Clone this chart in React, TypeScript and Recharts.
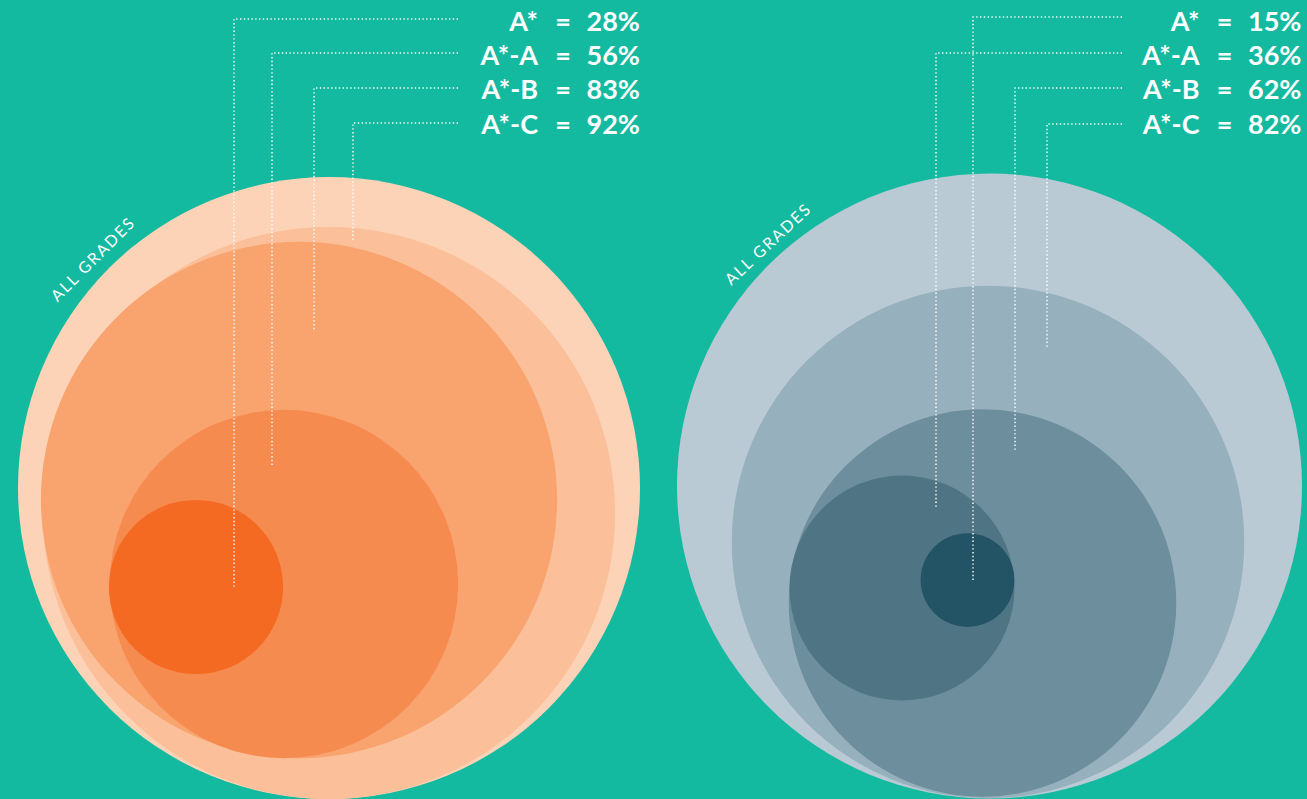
import { ScatterChart, Scatter, XAxis, YAxis, ZAxis, Cell } from "recharts";

const W = 1307;
const H = 799;

// grade bands, smallest first
const gradeBands = ["A*", "A*-A", "A*-B", "A*-C"];
const schoolA = [28, 56, 83, 92];
const schoolB = [15, 36, 62, 82];

const orangeColors = ["#F46A22", "#F68B50", "#F9A36F", "#FBBF99"];
const orangeAll = "#FDD3B8";
const blueColors = ["#225465", "#4F7585", "#6C8E9D", "#97B0BD"];
const blueAll = "#B9CAD5";

// layout of each group: outer circle + offsets of band circles (px)
const groups = [
  {
    values: schoolA,
    cx: 329,
    cy: 488,
    R: 311,
    offsets: [[-133, 99], [-45, 96], [-30, 12], [0, 25]],
    colors: orangeColors,
    all: orangeAll,
    leaderX: [234, 272, 314, 353],
    leaderEnd: [587, 467, 330, 240],
    lineY: [19, 53, 88, 123],
    lineEnd: 458,
    eqX: 563,
    tagX: 97,
    tagY: 263,
    tagAngle: -45,
  },
  {
    values: schoolB,
    cx: 989.5,
    cy: 486,
    R: 312.5,
    offsets: [[-22, 94], [-87.5, 102], [-7, 117], [-1.5, 56]],
    colors: blueColors,
    all: blueAll,
    leaderX: [973, 936, 1015, 1047],
    leaderEnd: [580, 509, 450, 348],
    lineY: [17, 53, 88, 124],
    lineEnd: 1122,
    eqX: 1224.5,
    tagX: 772,
    tagY: 248,
    tagAngle: -43,
  },
];

const rowY = [31, 65, 99, 134];

const MAX_AREA = Math.PI * 320 * 320;

function circleData(g: (typeof groups)[number]) {
  const pts = [{ x: g.cx, y: g.cy, area: Math.PI * g.R * g.R, fill: g.all }];
  for (let i = gradeBands.length - 1; i >= 0; i--) {
    const r = (g.R * g.values[i]) / 100;
    pts.push({
      x: g.cx + g.offsets[i][0],
      y: g.cy + g.offsets[i][1],
      area: Math.PI * r * r,
      fill: g.colors[i],
    });
  }
  return pts;
}

const textStyle = {
  fill: "#fff",
  fontFamily: "Lato, 'Open Sans', sans-serif",
  fontWeight: 700,
  fontSize: 27,
};

const RowLabel = (props: any) => {
  const { cx, cy, payload } = props;
  return (
    <g>
      <text x={cx - 25} y={cy} textAnchor="end" {...textStyle}>{payload.band}</text>
      <text x={cx} y={cy} textAnchor="middle" {...textStyle}>=</text>
      <text x={cx + 77} y={cy} textAnchor="end" {...textStyle}>{payload.value}%</text>
    </g>
  );
};

const Tag = (props: any) => {
  const { cx, cy, payload } = props;
  return (
    <text
      x={cx}
      y={cy}
      textAnchor="middle"
      transform={`rotate(${payload.angle} ${cx} ${cy})`}
      fill="#fff"
      fontFamily="Lato, sans-serif"
      fontSize={16}
      letterSpacing={1.8}
    >
      ALL GRADES
    </text>
  );
};

const NoDot = () => <g />;

const leaderLine = {
  stroke: "#fff",
  strokeOpacity: 0.95,
  strokeWidth: 1.5,
  strokeDasharray: "1.4 2.4",
  fill: "none",
};

export default function App() {
  return (
    <div style={{ width: W, height: H, background: "#13BA9F", overflow: "hidden" }}>
      <style>{`body{margin:0}`}</style>
      <ScatterChart width={W} height={H} margin={{ top: 0, right: 0, bottom: 0, left: 0 }}>
        <XAxis type="number" dataKey="x" domain={[0, W]} hide allowDataOverflow />
        <YAxis type="number" dataKey="y" domain={[0, H]} reversed hide allowDataOverflow />
        <ZAxis type="number" dataKey="area" domain={[0, MAX_AREA]} range={[0, MAX_AREA]} />
        {groups.map((g, gi) => (
          <Scatter
            key={"c" + gi}
            data={circleData(g)}
            isAnimationActive={false}
            shape={(p: any) => <circle cx={p.cx} cy={p.cy} r={p.width / 2} fill={p.fill} />}
          >
            {circleData(g).map((d, i) => (
              <Cell key={i} fill={d.fill} />
            ))}
          </Scatter>
        ))}
        {groups.map((g, gi) =>
          gradeBands.map((_, i) => (
            <Scatter
              key={`l${gi}-${i}`}
              data={[
                { x: g.lineEnd, y: g.lineY[i] },
                { x: g.leaderX[i], y: g.lineY[i] },
                { x: g.leaderX[i], y: g.leaderEnd[i] },
              ]}
              line={leaderLine}
              lineType="joint"
              shape={NoDot}
              isAnimationActive={false}
            />
          ))
        )}
        {groups.map((g, gi) => (
          <Scatter
            key={"t" + gi}
            data={gradeBands.map((b, i) => ({ x: g.eqX, y: rowY[i], band: b, value: g.values[i] }))}
            isAnimationActive={false}
            shape={RowLabel}
          />
        ))}
        <Scatter
          data={groups.map((g) => ({ x: g.tagX, y: g.tagY, angle: g.tagAngle }))}
          isAnimationActive={false}
          shape={Tag}
        />
      </ScatterChart>
    </div>
  );
}
